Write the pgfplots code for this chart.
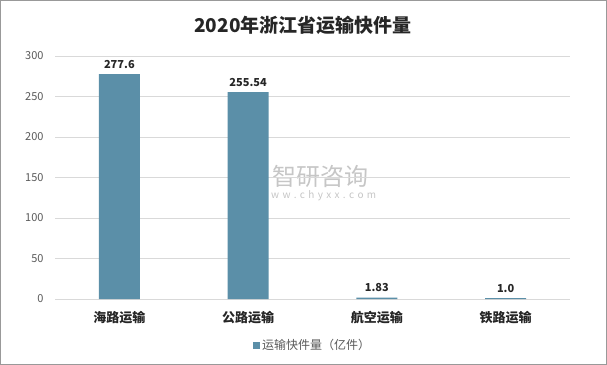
\documentclass[border=0pt]{standalone}
\usepackage{pgfplots}
\pgfplotsset{compat=1.18}
\usepackage{fontspec}
\setmainfont{Noto Sans CJK SC}
\definecolor{barc}{HTML}{5B8FA8}
\definecolor{gridc}{HTML}{D9D9D9}
\definecolor{tickc}{HTML}{595959}
\definecolor{titlec}{HTML}{262626}
\begin{document}
\begin{tikzpicture}
\draw[color=gray!80, line width=1bp] (0.5bp,0.5bp) rectangle (606.5bp,364.5bp);
\node[font=\fontsize{19bp}{22bp}\selectfont\bfseries, text=titlec] at (303bp,340bp) {2020年浙江省运输快件量};
\node[font=\fontsize{24bp}{26bp}\selectfont, text=gray!45] at (320bp,189bp) {智研咨询};
\node[font=\fontsize{10bp}{11bp}\selectfont, text=gray!45] at (318bp,169bp) {w\,\,w\,\,w\,\,.\,\,c\,\,h\,\,y\,\,x\,\,x\,\,.\,\,c\,\,o\,\,m};
\begin{axis}[
  at={(55bp,66bp)}, anchor=south west,
  scale only axis, width=515bp, height=243bp,
  ymin=0, ymax=300, ytick={0,50,...,300},
  xmin=-0.5, xmax=3.5, xtick={0,1,2,3},
  xticklabels={海路运输,公路运输,航空运输,铁路运输},
  ybar, bar width=41bp,
  axis x line*=bottom, axis y line*=left,
  x axis line style={gridc, line width=0.8bp, -},
  y axis line style={draw=none, -},
  ymajorgrids, grid style={gridc, line width=0.8bp},
  major tick length=0pt,
  yticklabel style={font=\fontsize{11bp}{12bp}\selectfont, text=tickc, anchor=east, xshift=-8bp},
  xticklabel style={font=\fontsize{13bp}{14bp}\selectfont\bfseries, text=titlec, yshift=-9bp},
  /pgf/number format/assume math mode=true,
  point meta=explicit symbolic,
  nodes near coords,
  nodes near coords style={font=\fontsize{11bp}{12bp}\selectfont\bfseries, text=titlec, yshift=2bp},
  legend style={at={(0.5,-0.19)}, anchor=center, draw=none, font=\fontsize{12bp}{13bp}\selectfont, text=tickc, inner sep=1bp},
  legend image code/.code={\fill[barc] (0bp,-3.5bp) rectangle (7bp,3.5bp);},
  clip=false,
]
\addplot[fill=barc, draw=none] coordinates {(0,277.6)[277.6] (1,255.54)[255.54] (2,1.83)[1.83] (3,1.0)[1.0]};
\addlegendentry{运输快件量（亿件）}
\end{axis}
\end{tikzpicture}
\end{document}
